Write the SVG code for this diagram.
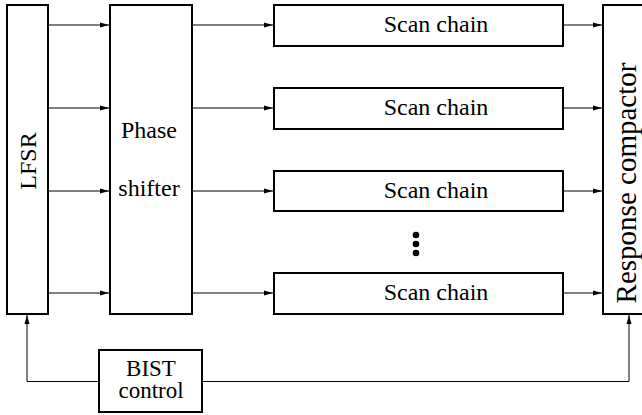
<svg xmlns="http://www.w3.org/2000/svg" width="642" height="415" viewBox="0 0 642 415">
<style>
.box{fill:#fff;stroke:#000;stroke-width:2}
text{font-family:'Liberation Serif','Times New Roman',Tinos,serif;font-size:24px;fill:#000}
.c{fill:none;stroke:#000;stroke-width:1}
</style>
<defs>
<marker id="ah" markerWidth="9" markerHeight="6" refX="9" refY="3" orient="auto" markerUnits="userSpaceOnUse">
<path d="M0,0.5 L9,3 L0,5.5 Z" fill="#000"/>
</marker>
</defs>
<rect width="642" height="415" fill="#fff"/>
<g id="connectors">
<path class="c" d="M48,25 H109" marker-end="url(#ah)"/>
<path class="c" d="M48,108 H109" marker-end="url(#ah)"/>
<path class="c" d="M48,191 H109" marker-end="url(#ah)"/>
<path class="c" d="M48,293 H109" marker-end="url(#ah)"/>
<path class="c" d="M192,25 H273" marker-end="url(#ah)"/>
<path class="c" d="M192,108 H273" marker-end="url(#ah)"/>
<path class="c" d="M192,191 H273" marker-end="url(#ah)"/>
<path class="c" d="M192,293 H273" marker-end="url(#ah)"/>
<path class="c" d="M563,25 H602" marker-end="url(#ah)"/>
<path class="c" d="M563,108 H602" marker-end="url(#ah)"/>
<path class="c" d="M563,191 H602" marker-end="url(#ah)"/>
<path class="c" d="M563,293 H602" marker-end="url(#ah)"/>
<path class="c" d="M99,381.5 H27 V315" marker-end="url(#ah)"/>
<path class="c" d="M202,381.5 H629 V315" marker-end="url(#ah)"/>
</g>
<g id="lfsr">
<rect class="box" x="7" y="5" width="41" height="309"/>
<text font-family="Liberation Serif, serif" text-anchor="middle" transform="translate(36,161) rotate(-90)">LFSR</text>
</g>
<g id="phase-shifter">
<rect class="box" x="110" y="5" width="82" height="309"/>
<text font-family="Liberation Serif, serif" x="149" y="138" text-anchor="middle">Phase</text>
<text font-family="Liberation Serif, serif" x="149" y="196" text-anchor="middle">shifter</text>
</g>
<g id="scan1">
<rect class="box" x="274" y="5" width="289" height="41"/>
<text font-family="Liberation Serif, serif" x="436" y="32" text-anchor="middle">Scan chain</text>
</g>
<g id="scan2">
<rect class="box" x="274" y="88" width="289" height="41"/>
<text font-family="Liberation Serif, serif" x="436" y="115" text-anchor="middle">Scan chain</text>
</g>
<g id="scan3">
<rect class="box" x="274" y="171" width="289" height="40"/>
<text font-family="Liberation Serif, serif" x="436" y="198" text-anchor="middle">Scan chain</text>
</g>
<g id="dots">
<circle cx="416" cy="235" r="3.3"/>
<circle cx="416" cy="244" r="3.3"/>
<circle cx="416" cy="253" r="3.3"/>
</g>
<g id="scan4">
<rect class="box" x="274" y="273" width="289" height="41"/>
<text font-family="Liberation Serif, serif" x="436" y="300" text-anchor="middle">Scan chain</text>
</g>
<g id="response-compactor">
<rect class="box" x="603" y="5" width="50" height="309"/>
<text font-family="Liberation Serif, serif" style="font-size:29px" text-anchor="middle" transform="translate(636,183) rotate(-90)">Response compactor</text>
</g>
<g id="bist-control">
<rect class="box" x="99" y="350" width="103" height="62"/>
<text font-family="Liberation Serif, serif" style="font-size:23px" x="151" y="376" text-anchor="middle">BIST</text>
<text font-family="Liberation Serif, serif" style="font-size:23px" x="151" y="398" text-anchor="middle">control</text>
</g>
</svg>
